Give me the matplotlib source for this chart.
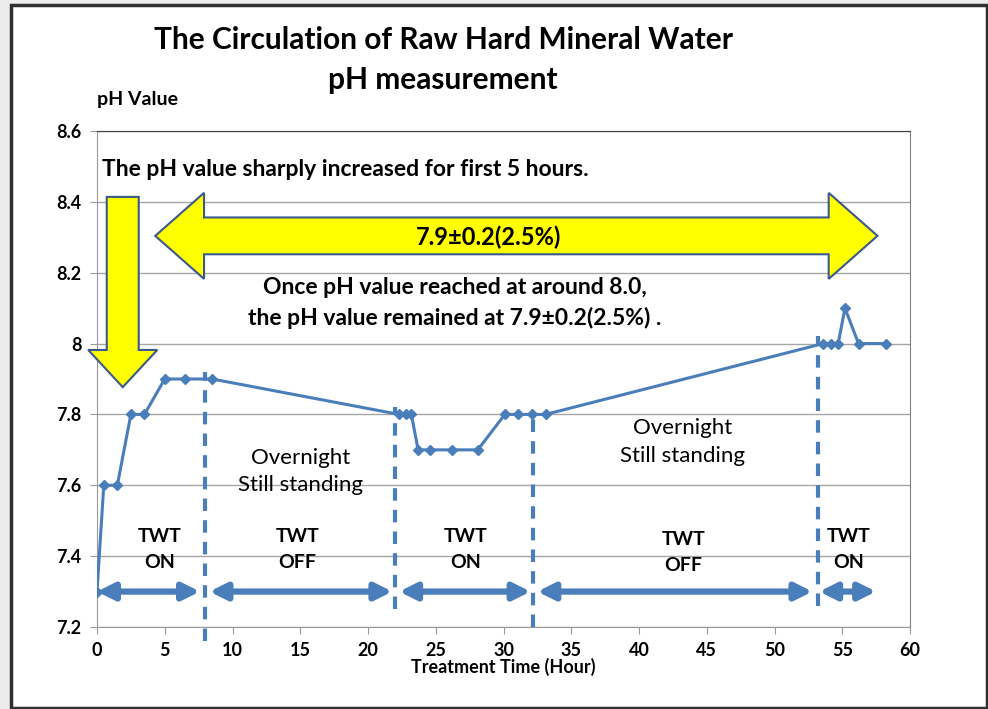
import numpy as np
import matplotlib.pyplot as plt
from matplotlib.patches import Rectangle, FancyArrow, Polygon
from matplotlib.ticker import FormatStrFormatter

plt.rcParams['font.family'] = ['Lato', 'DejaVu Sans']

# measurement data (hour, pH)
hours = [0, 0.5, 1.5, 2.5, 3.5, 5, 6.5, 8.5, 22.3, 22.8, 23.2, 23.7, 24.6, 26.2, 28.1,
         30.1, 31.1, 32.1, 33.1, 53.6, 54.2, 54.7, 55.2, 56.2, 58.2]
ph = [7.3, 7.6, 7.6, 7.8, 7.8, 7.9, 7.9, 7.9, 7.8, 7.8, 7.8, 7.7, 7.7, 7.7, 7.7,
      7.8, 7.8, 7.8, 7.8, 8.0, 8.0, 8.0, 8.1, 8.0, 8.0]

# phase boundaries (dashed lines)
bound_x = [8.0, 22.0, 32.2, 53.2]
bound_top = [7.92, 7.82, 7.8, 8.02]
bound_bot = [7.16, 7.25, 7.2, 7.26]

# horizontal phase arrows at pH 7.3
seg_start = [0, 8.3, 22.3, 32.5, 53.3]
seg_end = [7.6, 21.8, 32.0, 52.8, 57.5]
seg_labels = ['TWT\nON', 'TWT\nOFF', 'TWT\nON', 'TWT\nOFF', 'TWT\nON']
label_x = [4.6, 14.8, 27.2, 43.3, 55.5]
label_y = [7.419, 7.419, 7.419, 7.41, 7.419]

blue = '#4a7ebb'
yellow = '#ffff00'
edge = '#3a5a8c'

fig = plt.figure(figsize=(9.88, 7.09), dpi=100)
fig.patch.set_facecolor('#ececec')
fig.patches.append(Rectangle((11/988, 1/709), 976/988, 703/709, transform=fig.transFigure,
                             facecolor='white', edgecolor='#303030', lw=2.5, zorder=-5))
ax = fig.add_axes([97/988, 1-627/709, 813/988, 496/709])
ax.set_facecolor('white')

ax.set_xlim(0, 60)
ax.set_ylim(7.2, 8.6)
ax.set_xticks(np.arange(0, 61, 5))
ax.set_yticks(np.arange(7.2, 8.61, 0.2))
ax.yaxis.set_major_formatter(FormatStrFormatter('%g'))
ax.grid(axis='y', color='#a6a6a6', lw=1)
ax.set_axisbelow(True)
for s in ax.spines.values():
    s.set_color('#9a9a9a')
ax.spines['top'].set_color('#404040')
ax.spines['right'].set_color('#808080')
ax.tick_params(labelsize=13, color='#9a9a9a', length=5, pad=6)
for t in ax.get_xticklabels() + ax.get_yticklabels():
    t.set_fontweight('bold')
ax.set_xlabel('Treatment Time (Hour)', fontsize=13, fontweight='bold', labelpad=-1)

ax.plot(hours, ph, color=blue, lw=2.2, marker='D', ms=5, zorder=4)

for x, t, b in zip(bound_x, bound_top, bound_bot):
    ax.plot([x, x], [b, t], color=blue, lw=3, ls=(0, (3, 2.2)), zorder=3, clip_on=False)

for s, e in zip(seg_start, seg_end):
    ax.annotate('', xy=(s, 7.3), xytext=(e, 7.3),
                arrowprops=dict(arrowstyle='<|-|>,head_length=1.0,head_width=0.5',
                                color=blue, lw=4.5, shrinkA=0, shrinkB=0),
                annotation_clip=False)

for lx, ly, lab in zip(label_x, label_y, seg_labels):
    ax.text(lx, ly, lab, ha='center', va='center', fontsize=14, fontweight='bold',
            linespacing=1.6)

ax.text(15, 7.638, 'Overnight\nStill standing', ha='center', va='center', fontsize=16,
        linespacing=1.45)
ax.text(43.2, 7.722, 'Overnight\nStill standing', ha='center', va='center', fontsize=16,
        linespacing=1.45)

# yellow down arrow
ax.add_patch(FancyArrow(1.9, 8.414, 0, -0.537, width=2.36, head_width=5.1,
                        head_length=0.105, length_includes_head=True,
                        facecolor=yellow, edgecolor=edge, lw=1.5,
                        clip_on=False, zorder=5))
# yellow double arrow (range band)
cy, half_shaft, half_head = 8.304, 0.052, 0.1215
lt, rt, head_len = 4.3, 57.6, 3.6
lb, rb = lt + head_len, rt - head_len
ax.add_patch(Polygon([(lt, cy), (lb, cy + half_head), (lb, cy + half_shaft),
                      (rb, cy + half_shaft), (rb, cy + half_head), (rt, cy),
                      (rb, cy - half_head), (rb, cy - half_shaft), (lb, cy - half_shaft),
                      (lb, cy - half_head)], closed=True, facecolor=yellow,
                     edgecolor=edge, lw=1.5, zorder=2))
ax.text(28.9, 8.3, '7.9±0.2(2.5%)', ha='center', va='center', fontsize=17,
        fontweight='bold', zorder=6)

ax.text(0.4, 8.49, 'The pH value sharply increased for first 5 hours.', ha='left',
        va='center', fontsize=16.5, fontweight='bold', zorder=6)
ax.text(26.4, 8.157, 'Once pH value reached at around 8.0,', ha='center', va='center',
        fontsize=16.5, fontweight='bold')
ax.text(26.4, 8.072, 'the pH value remained at 7.9±0.2(2.5%) .', ha='center',
        va='center', fontsize=16.5, fontweight='bold')

fig.text(443/988, 1-40/709, 'The Circulation of Raw Hard Mineral Water', ha='center',
         va='center', fontsize=21.5, fontweight='bold')
fig.text(443/988, 1-80/709, 'pH measurement', ha='center', va='center', fontsize=21.5,
         fontweight='bold')
fig.text(137/988, 1-99/709, 'pH Value', ha='center', va='center', fontsize=14,
         fontweight='bold')

fig.savefig('out.png', dpi=100, facecolor=fig.get_facecolor())
